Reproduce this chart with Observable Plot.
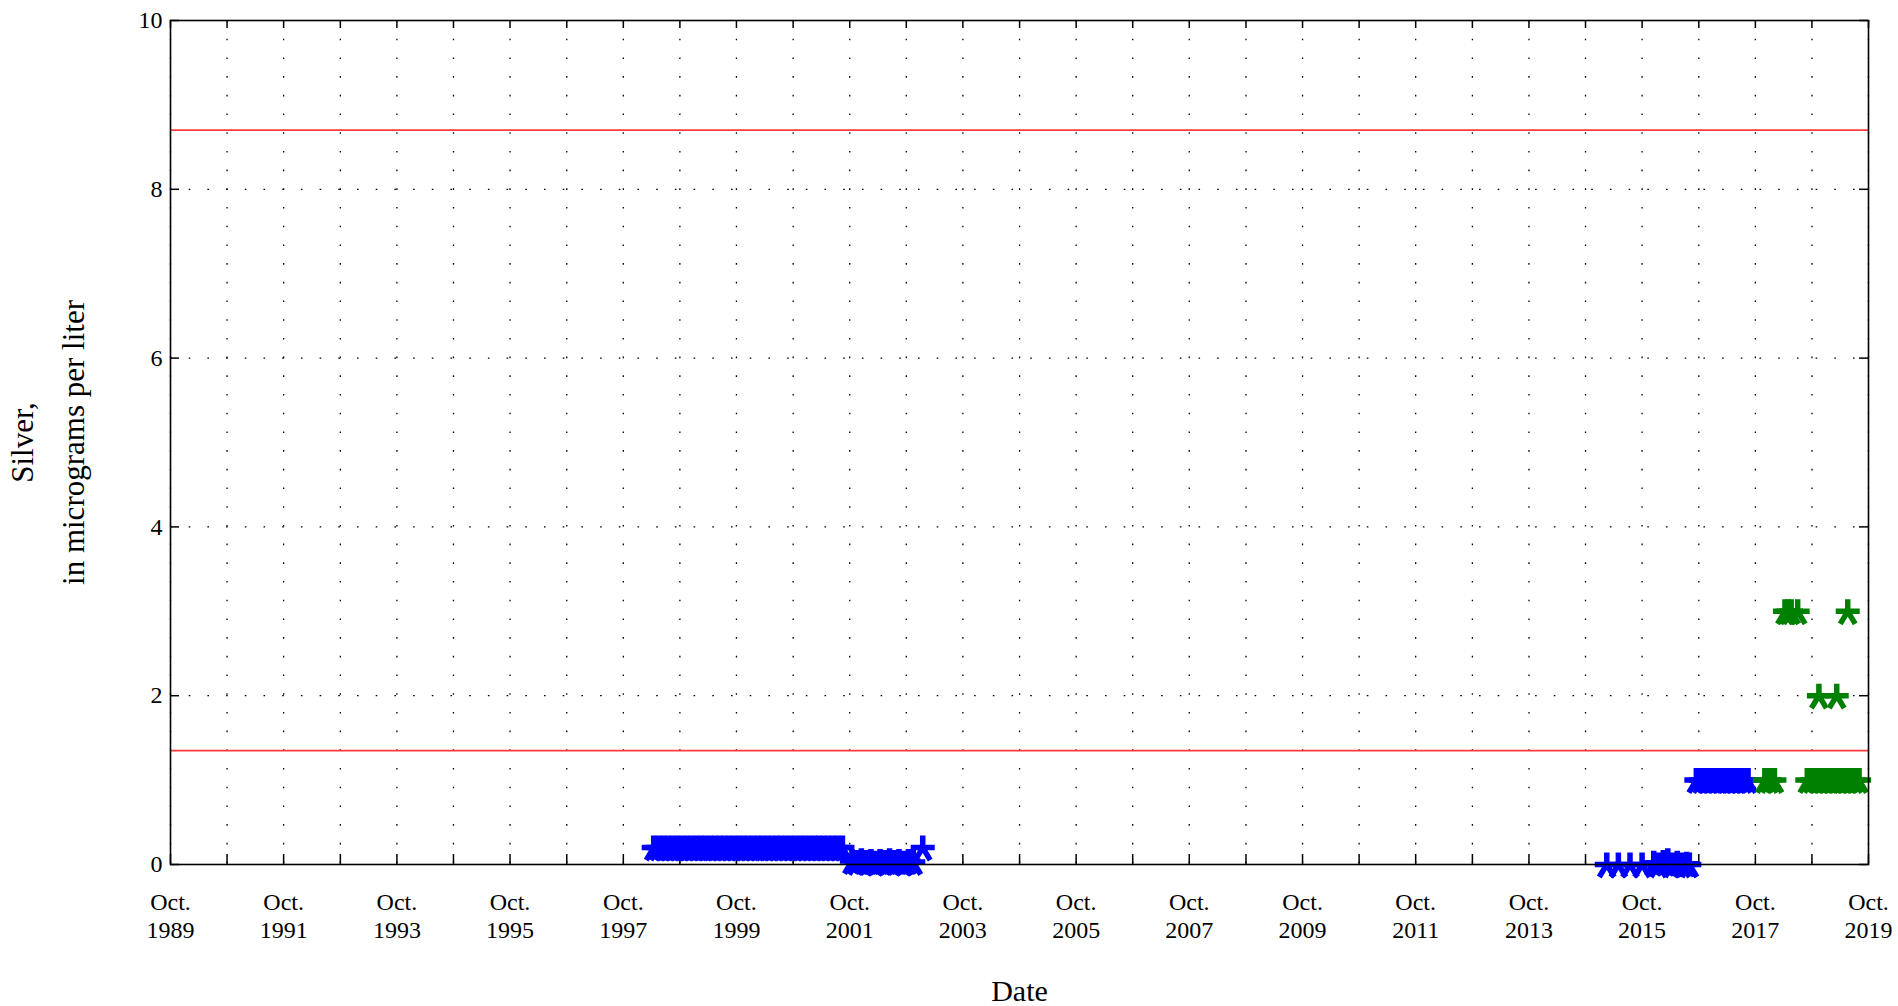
<!DOCTYPE html>
<html>
<head>
<meta charset="utf-8">
<script src="https://cdn.jsdelivr.net/npm/d3@7"></script>
<script src="https://cdn.jsdelivr.net/npm/@observablehq/plot@0.6"></script>
<style>
  html, body { margin: 0; padding: 0; background: #fff; }
  #chart svg { display: block; }
</style>
</head>
<body>
<div id="chart"></div>
<script>
// ---------- data ----------
const blueDates = [
  // 1998–2001, about 0.2
  "1998-04-15","1998-05-15","1998-06-15","1998-07-15","1998-08-15","1998-09-15","1998-10-15","1998-11-15","1998-12-15",
  "1999-01-15","1999-02-15","1999-03-15","1999-04-15","1999-05-15","1999-06-15","1999-07-15","1999-08-15","1999-09-15","1999-10-15","1999-11-15","1999-12-15",
  "2000-01-15","2000-02-15","2000-03-15","2000-04-15","2000-05-15","2000-06-15","2000-07-15","2000-08-15","2000-09-15","2000-10-15","2000-11-15","2000-12-15",
  "2001-01-15","2001-02-15","2001-03-15","2001-04-15","2001-05-15","2001-06-15","2001-07-15","2001-08-15",
  // late 2001–2002, near zero
  "2001-10-15","2001-11-15","2001-12-15",
  "2002-01-15","2002-02-15","2002-03-15","2002-04-15","2002-05-15","2002-06-15","2002-07-15","2002-08-15","2002-09-15","2002-10-15","2002-11-15",
  "2003-01-15",
  // 2015–2016, zero
  "2015-02-15","2015-05-01","2015-07-15","2015-10-01","2015-12-15",
  "2016-01-15","2016-02-15","2016-03-15","2016-04-15","2016-05-15","2016-06-15","2016-07-15","2016-08-01",
  // 2016–2017, 1.0
  "2016-09-15","2016-10-15","2016-11-15","2016-12-15",
  "2017-01-15","2017-02-15","2017-03-15","2017-04-15","2017-05-15","2017-06-15","2017-07-15","2017-08-15"
];
const blueValues = [
  0.2,0.2,0.2,0.2,0.2,0.2,0.2,0.2,0.2,
  0.2,0.2,0.2,0.2,0.2,0.2,0.2,0.2,0.2,0.2,0.2,0.2,
  0.2,0.2,0.2,0.2,0.2,0.2,0.2,0.2,0.2,0.2,0.2,0.2,
  0.2,0.2,0.2,0.2,0.2,0.2,0.2,0.2,
  0.04,0.03,0.05,
  0.03,0.04,0.02,0.04,0.03,0.05,0.03,0.04,0.02,0.04,0.03,
  0.2,
  0,0,0,0,0.02,
  0,0.03,0.05,0,0.02,0,0.01,0,
  1,1,1,1,
  1,1,1,1,1,1,1,1
];
const greenDates = [
  "2017-12-01","2018-01-01","2018-02-01",
  "2018-04-10","2018-05-01","2018-05-20","2018-07-01",
  "2018-09-01","2018-10-01","2018-11-01","2018-12-01",
  "2019-01-01","2019-02-01","2019-03-01","2019-04-01","2019-05-01","2019-06-01","2019-07-01","2019-08-01",
  "2018-11-15","2019-03-10",
  "2019-05-20"
];
const greenValues = [
  1,1,1,
  3,3,3,3,
  1,1,1,1,
  1,1,1,1,1,1,1,1,
  2,2,
  3
];
const referenceLevels = [8.7, 1.35];
const yTickValues = [0, 2, 4, 6, 8, 10];
const yGridValues = [2, 4, 6, 8];
const tickYears = [1989,1990,1991,1992,1993,1994,1995,1996,1997,1998,1999,2000,2001,2002,2003,2004,
                   2005,2006,2007,2008,2009,2010,2011,2012,2013,2014,2015,2016,2017,2018,2019];
const labelYears = [1989,1991,1993,1995,1997,1999,2001,2003,2005,2007,2009,2011,2013,2015,2017,2019];
const xTitle = "Date";
const yTitle = "Silver,\nin micrograms per liter";

// ---------- build ----------
const octDate = y => new Date(Date.UTC(y, 9, 1));
const blue = blueDates.map((d, i) => ({date: new Date(d), value: blueValues[i]}));
const green = greenDates.map((d, i) => ({date: new Date(d), value: greenValues[i]}));
const yearTicks = tickYears.map(octDate);
const labelTicks = labelYears.map(octDate);

const W = 1898, H = 1006;
const M = {top: 20, right: 30, bottom: 142, left: 170};
const innerW = W - M.left - M.right;
const innerH = H - M.top - M.bottom;
const FONT = "'Liberation Serif', 'Times New Roman', serif";

// five-armed asterisk like the reference marker
const asterisk = {
  draw(ctx) {
    const arms = [[0, -12], [-12, 0], [12, 0], [-7.5, 12.5], [7.5, 12.5]];
    for (const [x, y] of arms) { ctx.moveTo(0, 0); ctx.lineTo(x, y); }
  }
};

const chart = Plot.plot({
  width: W, height: H,
  marginTop: M.top, marginRight: M.right, marginBottom: M.bottom, marginLeft: M.left,
  style: {fontFamily: FONT, background: "#fff", color: "#000"},
  x: {type: "utc", domain: [octDate(1989), octDate(2019)]},
  y: {domain: [0, 10]},
  marks: [
    Plot.gridX(yearTicks, {stroke: "#000", strokeOpacity: 1, strokeWidth: 1.3, strokeDasharray: "1.6,17.1"}),
    Plot.gridY(yGridValues, {stroke: "#000", strokeOpacity: 1, strokeWidth: 1.3, strokeDasharray: "1.6,17.1"}),
    Plot.ruleY(referenceLevels, {stroke: "#ff3a3a", strokeWidth: 1.8}),
    // inward tick marks on all four sides
    Plot.ruleX(yearTicks, {insetTop: innerH - 10, stroke: "#000", strokeWidth: 1.5}),
    Plot.ruleX(yearTicks, {insetBottom: innerH - 8, stroke: "#000", strokeWidth: 1.5}),
    Plot.ruleY(yTickValues, {insetRight: innerW - 9, stroke: "#000", strokeWidth: 1.5}),
    Plot.ruleY(yTickValues, {insetLeft: innerW - 9, stroke: "#000", strokeWidth: 1.5}),
    Plot.dot(blue, {x: "date", y: "value", symbol: asterisk, stroke: "#0000ff", fill: "none", strokeWidth: 5.5, r: 12}),
    Plot.dot(green, {x: "date", y: "value", symbol: asterisk, stroke: "#008000", fill: "none", strokeWidth: 5.5, r: 12}),
    Plot.frame({stroke: "#000", strokeWidth: 1.6}),
    Plot.axisX({ticks: labelTicks, tickSize: 0, tickPadding: 26, fontSize: 24, lineHeight: 1.15,
                tickFormat: d => `Oct.\n${d.getUTCFullYear()}`, label: null}),
    Plot.axisY({ticks: yTickValues, tickSize: 0, tickPadding: 8, fontSize: 24, label: null}),
    Plot.text([xTitle], {frameAnchor: "bottom", dy: 127, lineAnchor: "middle", fontSize: 30, text: d => d}),
    Plot.text([yTitle], {frameAnchor: "left", dx: -128, rotate: -90, textAnchor: "middle", lineAnchor: "middle",
                         lineHeight: 1.65, fontSize: 31, text: d => d})
  ]
});
document.getElementById("chart").appendChild(chart);
</script>
</body>
</html>
